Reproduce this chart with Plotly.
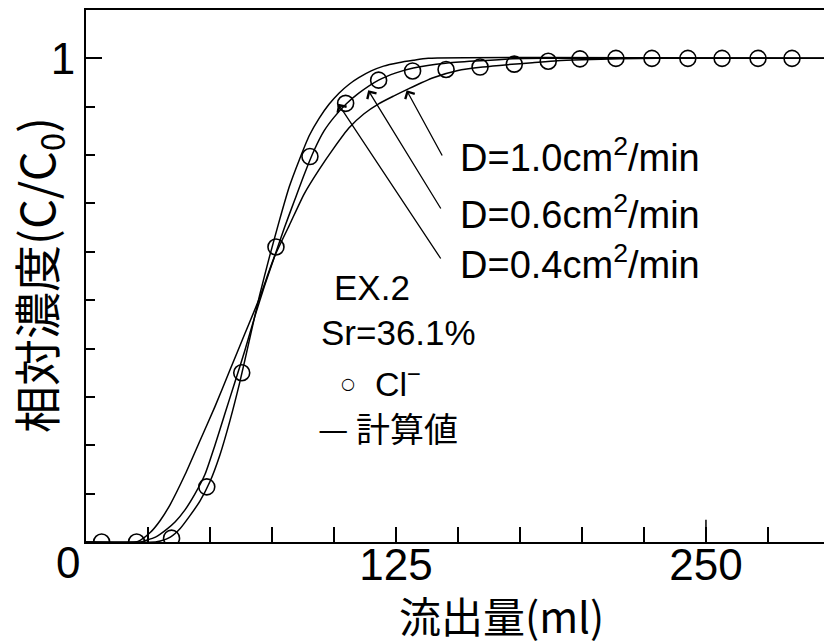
import plotly.graph_objects as go

# Measured Cl- breakthrough (outflow volume in ml, relative concentration C/C0)
outflow_ml = [6.3, 20.4, 34.5, 48.7, 62.8, 76.6, 90.3, 104.7, 118.0, 131.7, 145.2,
              158.9, 172.7, 186.4, 199.2, 213.7, 228.2, 242.7, 256.5, 271.0, 284.7]
cl_conc = [0.0, 0.0, 0.008, 0.114, 0.35, 0.61, 0.797, 0.907, 0.955, 0.974, 0.977,
           0.982, 0.988, 0.994, 0.999, 1.0, 1.0, 1.0, 1.0, 1.0, 1.0]

# Calculated curves for three dispersion coefficients
calc_d10_x = [0, 20, 22, 26, 30, 34, 40, 46, 52, 58, 64, 70, 76, 82, 88, 94, 100, 106,
              112, 118, 124, 130, 140, 150, 160, 170, 180, 190, 200, 215, 230, 298]
calc_d10_y = [0, 0, 0.004, 0.02, 0.045, 0.078, 0.14, 0.21, 0.28, 0.355, 0.43, 0.505,
              0.59, 0.655, 0.72, 0.77, 0.815, 0.856, 0.885, 0.906, 0.922, 0.937, 0.96,
              0.975, 0.982, 0.987, 0.991, 0.995, 0.997, 0.999, 1.0, 1.0]

calc_d06_x = [0, 22, 24, 28, 32, 36, 40, 44, 48, 52, 56, 60, 64, 68, 72, 76, 80, 84,
              88, 92, 96, 100, 105, 110, 118, 125, 132, 145, 159, 172, 185, 298]
calc_d06_y = [0, 0, 0.003, 0.01, 0.024, 0.042, 0.067, 0.1, 0.14, 0.2, 0.265, 0.33,
              0.395, 0.465, 0.53, 0.59, 0.65, 0.705, 0.76, 0.81, 0.85, 0.878, 0.906,
              0.928, 0.955, 0.97, 0.98, 0.99, 0.995, 0.999, 1.0, 1.0]

calc_d04_x = [0, 28, 30, 34, 38, 42, 46, 50, 54, 58, 62, 66, 70, 74, 78, 82, 86, 90,
              94, 98, 102, 106, 110, 115, 120, 126, 132, 138, 298]
calc_d04_y = [0, 0, 0.002, 0.01, 0.028, 0.055, 0.085, 0.125, 0.18, 0.25, 0.33, 0.42,
              0.51, 0.59, 0.665, 0.735, 0.79, 0.84, 0.876, 0.905, 0.928, 0.946, 0.96,
              0.974, 0.984, 0.991, 0.996, 1.0, 1.0]

x_label_vals = [125, 250]
x_label_text = ["125", "250"]
x_minor_step = 25
long_tick_at = 250

# Labels for the three curves and the volume/concentration each arrow points to
d_labels = ["D=1.0cm<sup>2</sup>/min", "D=0.6cm<sup>2</sup>/min", "D=0.4cm<sup>2</sup>/min"]
arrow_tips = [(129.3, 0.934), (113.8, 0.934), (101.7, 0.906)]

W, H = 824, 644
L, R, T, B = 86, 0, 10, 102
PW, PH = W - L - R, H - T - B
X_MAX, Y_MAX = 297.6, 1.1

LATIN = "Liberation Sans, Arial, Noto Sans CJK JP"


def px(x, y):
    """Page pixel position -> paper coordinates."""
    return (x - L) / PW, (H - B - y) / PH


def text_at(x, y, text, size, family=LATIN, xanchor="center", angle=0):
    xp, yp = px(x, y)
    return dict(x=xp, y=yp, xref="paper", yref="paper", text=text, textangle=angle,
                showarrow=False, xanchor=xanchor, yanchor="middle",
                font=dict(family=family, size=size, color="black"))


fig = go.Figure()
line_style = dict(color="black", width=1.5, shape="spline", smoothing=0.6)
for xs, ys in [(calc_d10_x, calc_d10_y), (calc_d06_x, calc_d06_y), (calc_d04_x, calc_d04_y)]:
    fig.add_trace(go.Scatter(x=xs, y=ys, mode="lines", line=line_style,
                             hoverinfo="skip", showlegend=False))

fig.add_trace(go.Scatter(
    x=outflow_ml, y=cl_conc, mode="markers",
    marker=dict(symbol="circle-open", size=16, color="black", line=dict(width=1.6)),
    showlegend=False))

annotations = []

# curve labels with leader arrows
label_y = [155, 211.7, 261.7]
tails = [(443, 157), (441.7, 210), (441.7, 260)]
for text, ly in zip(d_labels, label_y):
    annotations.append(text_at(458, ly, text, 38, xanchor="left"))
for (tx, ty), (sx, sy) in zip(arrow_tips, tails):
    tip_px = L + tx / X_MAX * PW
    tip_py = H - B - ty / Y_MAX * PH
    annotations.append(dict(x=tx, y=ty, xref="x", yref="y", text="",
                            showarrow=True, ax=sx - tip_px, ay=sy - tip_py,
                            arrowhead=4, arrowsize=1.6, arrowwidth=1.3,
                            arrowcolor="black", standoff=0))

# experiment notes
annotations.append(text_at(372, 288, "EX.2", 35))
annotations.append(text_at(398, 332, "Sr=36.1%", 35))
annotations.append(text_at(348, 383, "○", 16, family="DejaVu Sans"))
annotations.append(text_at(398, 381, "Cl<sup>−</sup>", 34))
annotations.append(text_at(388, 427, "— 計算値", 34, family="Noto Sans CJK JP"))

# origin label
annotations.append(text_at(68, 562, "0", 44))

# axis titles
annotations.append(text_at(501, 614, "流出量(ml)", 42, family="Noto Sans CJK JP"))
annotations.append(text_at(37, 275, "相対濃度(C/C<sub>0</sub>)", 47,
                           family="Noto Sans CJK JP", angle=-90))

fig.add_shape(type="line", xref="x", yref="y", x0=long_tick_at, x1=long_tick_at,
              y0=0, y1=0.046, line=dict(color="black", width=1.5))

fig.update_layout(
    width=W, height=H,
    margin=dict(l=L, r=R, t=T, b=B),
    paper_bgcolor="white", plot_bgcolor="white",
    annotations=annotations,
    xaxis=dict(range=[0, X_MAX], showgrid=False, zeroline=False,
               showline=True, linecolor="black", linewidth=2, mirror=True,
               ticks="inside", ticklen=15, tickwidth=1.5, tickcolor="black",
               tickvals=x_label_vals, ticktext=x_label_text, ticklabelstandoff=-17,
               tickfont=dict(family=LATIN, size=44, color="black"),
               minor=dict(ticks="inside", ticklen=15, tickwidth=1.5, tickcolor="black",
                          tick0=0, dtick=x_minor_step, showgrid=False)),
    yaxis=dict(range=[0, Y_MAX], showgrid=False, zeroline=False,
               showline=True, linecolor="black", linewidth=2,
               ticks="inside", ticklen=16, tickwidth=1.5, tickcolor="black",
               tickvals=[1], ticktext=["1"],
               tickfont=dict(family=LATIN, size=44, color="black"),
               minor=dict(ticks="inside", ticklen=9, tickwidth=1.5, tickcolor="black",
                          dtick=0.1, showgrid=False)),
)

fig.write_html("out.html")
